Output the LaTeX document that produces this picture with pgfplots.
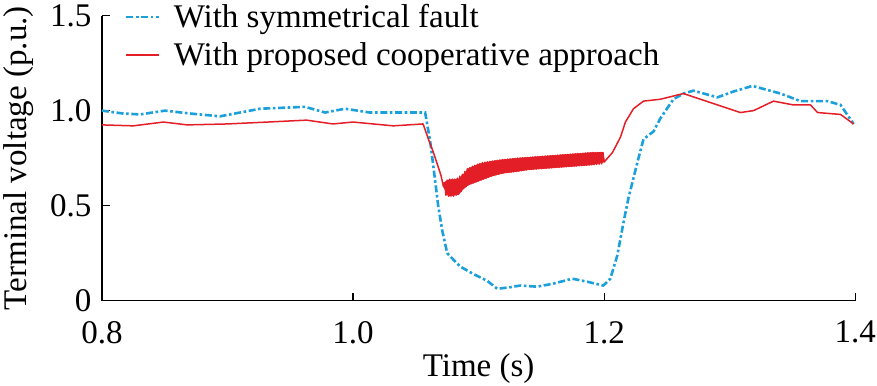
\documentclass[border=0pt]{standalone}
\usepackage{fontspec}
\setmainfont{Liberation Serif}
\usepackage{pgfplots}
\pgfplotsset{compat=1.18}
\definecolor{fblue}{RGB}{27,160,220}
\definecolor{fred}{RGB}{228,30,38}
\begin{document}
\begin{tikzpicture}[font=\fontsize{16.5}{18.5}\selectfont]
\begin{axis}[
  scale only axis,
  width=376.5pt, height=142.5pt,
  xmin=0.8, xmax=1.4, ymin=0, ymax=1.5,
  axis x line=bottom, axis y line=left,
  axis line style={-, line width=0.6pt},
  every tick/.style={black, line width=0.6pt},
  major tick length=4pt,
  tick align=inside,
  xtick={0.8,1.0,1.2,1.4}, xticklabels={0.8,1.0,1.2,1.4},
  ytick={0,0.5,1.0,1.5}, yticklabels={0,0.5,1.0,1.5},
  /pgf/number format/assume math mode=true,
  tick label style={font=\fontsize{16.5}{18.5}\selectfont},
  xticklabel style={inner xsep=0.5pt, inner ysep=1pt, yshift=-9pt},
  yticklabel style={inner xsep=1pt, inner ysep=1pt, xshift=-4pt},
  xlabel={Time (s)}, ylabel={Terminal voltage (p.u.)},
  xlabel style={at={(axis description cs:0.5,-0.238)}, anchor=center, inner sep=1pt},
  ylabel style={at={(axis description cs:-0.110,0.5)}, anchor=center, inner sep=2pt},
  label style={font=\fontsize{16.5}{18.5}\selectfont},
  clip=false,
  legend style={at={(axis description cs:0.0303,1.056)}, anchor=north west, draw=none, fill=none,
    row sep=2pt, inner sep=0pt, font=\fontsize{16.5}{18.5}\selectfont,
    nodes={inner sep=2pt}},
  legend cell align=left,
  legend image code/.code={\draw[#1] (0pt,0pt) -- (16.5pt,0pt); \path (21pt,0pt);},
]
\addplot[fblue, line width=1.3pt, dash pattern=on 3.5pt off 1.3pt on 1.3pt off 1.3pt] coordinates {
(0.800,1.000) (0.8167,0.985) (0.8303,0.980) (0.8502,1.000) (0.870,0.985) (0.894,0.970)
(0.926,1.010) (0.9618,1.020) (0.9777,0.990) (0.9936,1.010) (1.0135,0.990) (1.035,0.990) (1.0574,0.990)
(1.0614,0.840) (1.0654,0.630) (1.0678,0.500) (1.0710,0.370) (1.0750,0.250) (1.0853,0.180)
(1.0960,0.140) (1.1068,0.105) (1.1148,0.063) (1.1240,0.070) (1.1331,0.080) (1.1467,0.074)
(1.1594,0.090) (1.1746,0.116) (1.1865,0.100) (1.1993,0.080) (1.2049,0.116) (1.2105,0.240)
(1.2153,0.410) (1.2193,0.540) (1.2265,0.730) (1.2313,0.850) (1.2392,0.890) (1.2448,0.960)
(1.2551,1.060) (1.2631,1.090) (1.2710,1.105) (1.2902,1.070) (1.3027,1.100) (1.3180,1.130)
(1.3404,1.090) (1.3563,1.050) (1.3778,1.050) (1.3882,1.030) (1.3986,0.930)
};
\addlegendentry{With symmetrical fault}
\addplot[fred, line width=0.75pt, line join=round] coordinates {
(0.800,0.925) (0.825,0.920) (0.849,0.940) (0.868,0.925) (0.900,0.930) (0.932,0.940)
(0.963,0.950) (0.984,0.930) (1.000,0.940) (1.032,0.920) (1.0558,0.930)
(1.060,0.850) (1.064,0.780) (1.068,0.700) (1.070,0.660) (1.072,0.600)
(1.073,0.620) (1.074,0.555) (1.075,0.635) (1.076,0.550) (1.077,0.640) (1.078,0.550)
(1.079,0.640) (1.080,0.550) (1.081,0.640) (1.082,0.555) (1.083,0.645) (1.084,0.560)
(1.085,0.655) (1.086,0.575) (1.087,0.665) (1.088,0.590) (1.089,0.680) (1.090,0.600)
(1.091,0.695) (1.092,0.610) (1.093,0.700) (1.094,0.615) (1.095,0.708) (1.096,0.620)
(1.097,0.712) (1.098,0.625) (1.099,0.718) (1.100,0.630) (1.101,0.722) (1.102,0.635)
(1.103,0.727) (1.104,0.640) (1.105,0.729) (1.106,0.645) (1.107,0.731) (1.108,0.650)
(1.109,0.733) (1.110,0.655) (1.111,0.735) (1.112,0.660) (1.113,0.737) (1.114,0.663)
(1.115,0.739) (1.116,0.667) (1.117,0.741) (1.118,0.670) (1.119,0.742) (1.120,0.672)
(1.121,0.744) (1.122,0.674) (1.123,0.745) (1.124,0.676) (1.125,0.746) (1.126,0.677)
(1.127,0.747) (1.128,0.678) (1.129,0.749) (1.130,0.680) (1.131,0.750) (1.132,0.682)
(1.133,0.751) (1.134,0.684) (1.135,0.752) (1.136,0.686) (1.137,0.753) (1.138,0.688)
(1.139,0.754) (1.140,0.690) (1.141,0.755) (1.142,0.691) (1.143,0.756) (1.144,0.692)
(1.145,0.757) (1.146,0.693) (1.147,0.758) (1.148,0.694) (1.149,0.759) (1.150,0.695)
(1.151,0.760) (1.152,0.696) (1.153,0.761) (1.154,0.697) (1.155,0.762) (1.156,0.698)
(1.157,0.763) (1.158,0.699) (1.159,0.764) (1.160,0.700) (1.161,0.765) (1.162,0.701)
(1.163,0.766) (1.164,0.702) (1.165,0.767) (1.166,0.703) (1.167,0.768) (1.168,0.704)
(1.169,0.769) (1.170,0.705) (1.171,0.770) (1.172,0.706) (1.173,0.771) (1.174,0.707)
(1.175,0.772) (1.176,0.708) (1.177,0.773) (1.178,0.709) (1.179,0.774) (1.180,0.710)
(1.181,0.775) (1.182,0.711) (1.183,0.776) (1.184,0.712) (1.185,0.777) (1.186,0.713)
(1.187,0.778) (1.188,0.714) (1.189,0.779) (1.190,0.715) (1.191,0.780) (1.192,0.716)
(1.193,0.780) (1.194,0.717) (1.195,0.780) (1.196,0.718) (1.197,0.780) (1.198,0.720)
(1.199,0.780) (1.200,0.730)
(1.2066,0.78) (1.2129,0.86) (1.2169,0.94) (1.2233,1.01) (1.2313,1.05) (1.2448,1.06)
(1.2631,1.09) (1.2767,1.06) (1.2902,1.03) (1.3085,0.99) (1.3189,1.00) (1.3348,1.05)
(1.3507,1.03) (1.3643,1.03) (1.3699,0.99) (1.3882,0.98) (1.3986,0.93)
};
\addlegendentry{With proposed cooperative approach}
% oscillation band of the red trace (envelope)
\addplot[fred, fill=fred, line width=0.3pt, line join=round, forget plot] coordinates {
(1.072,0.620) (1.076,0.635) (1.084,0.640) (1.088,0.665) (1.092,0.695) (1.100,0.718)
(1.110,0.733) (1.120,0.742) (1.130,0.749) (1.140,0.754) (1.150,0.759) (1.160,0.764)
(1.170,0.769) (1.180,0.774) (1.190,0.779) (1.199,0.780)
(1.200,0.730) (1.190,0.715) (1.180,0.710) (1.170,0.705) (1.160,0.700) (1.150,0.695)
(1.140,0.690) (1.130,0.680) (1.120,0.672) (1.110,0.655) (1.100,0.630) (1.092,0.610)
(1.088,0.590) (1.084,0.560) (1.076,0.550) (1.072,0.600)
} -- cycle;
\end{axis}
\end{tikzpicture}
\end{document}
